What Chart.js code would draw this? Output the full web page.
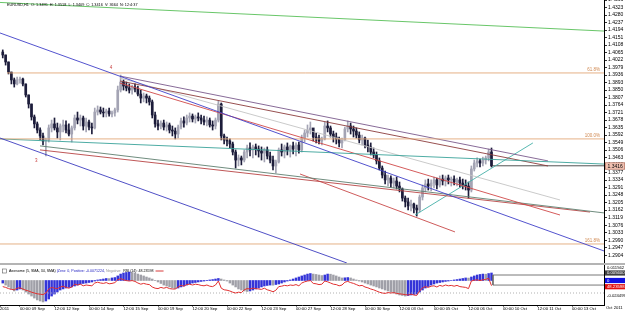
<!DOCTYPE html>
<html><head><meta charset="utf-8">
<script src="https://cdn.jsdelivr.net/npm/chart.js@4.4.1/dist/chart.umd.min.js"></script>
<style>
html,body{margin:0;padding:0;background:#fff;overflow:hidden;}
#wrap{position:relative;width:625px;height:311px;background:#fff;}
#main{position:absolute;left:0;top:0;}
#sep{position:absolute;left:0;top:263px;width:625px;height:2px;background:#b4b4b4;}
#osc{position:absolute;left:0;top:265px;}
</style></head><body>
<div id="wrap">
<canvas id="main" width="625" height="263"></canvas>
<div id="sep"></div>
<canvas id="osc" width="625" height="46"></canvas>
</div>
<script>
// ---------------- DATA ----------------
const symbolInfo = 'EURUSD,H1  O: 1.3495  H: 1.3518  L: 1.3409  C: 1.3416  V: 3664  N: 12:4:37';

const opens = [1.4068,1.4051,1.4011,1.3953,1.3908,1.3885,1.3908,1.3913,1.3885,1.3822,
1.3770,1.3696,1.3656,1.3621,1.3587,1.3558,1.3564,1.3633,1.3656,1.3633,
1.3610,1.3644,1.3650,1.3621,1.3598,1.3633,1.3690,1.3678,1.3690,1.3644,
1.3667,1.3638,1.3633,1.3724,1.3736,1.3724,1.3719,1.3730,1.3713,1.3719,
1.3736,1.3850,1.3896,1.3873,1.3862,1.3850,1.3867,1.3856,1.3827,1.3804,
1.3816,1.3804,1.3782,1.3707,1.3656,1.3644,1.3661,1.3638,1.3650,1.3621,
1.3615,1.3598,1.3638,1.3673,1.3661,1.3690,1.3701,1.3684,1.3696,1.3690,
1.3678,1.3667,1.3678,1.3650,1.3644,1.3678,1.3770,1.3587,1.3564,1.3558,
1.3541,1.3495,1.3449,1.3461,1.3449,1.3495,1.3518,1.3507,1.3524,1.3512,
1.3501,1.3489,1.3507,1.3472,1.3449,1.3415,1.3438,1.3507,1.3495,1.3524,
1.3507,1.3530,1.3512,1.3535,1.3507,1.3575,1.3604,1.3621,1.3633,1.3581,
1.3575,1.3558,1.3570,1.3644,1.3633,1.3598,1.3581,1.3570,1.3547,1.3564,
1.3627,1.3644,1.3627,1.3615,1.3592,1.3564,1.3575,1.3535,1.3524,1.3495,
1.3478,1.3444,1.3403,1.3363,1.3335,1.3346,1.3317,1.3329,1.3300,1.3283,
1.3231,1.3209,1.3186,1.3197,1.3174,1.3163,1.3237,1.3289,1.3312,1.3300,
1.3317,1.3335,1.3306,1.3340,1.3329,1.3346,1.3335,1.3340,1.3323,1.3335,
1.3317,1.3306,1.3300,1.3277,1.3398,1.3432,1.3444,1.3432,1.3449,1.3461,
1.3495];
const highs = [1.4080,1.4051,1.4011,1.3953,1.3919,1.3925,1.3925,1.3919,1.3885,1.3822,
1.3770,1.3707,1.3667,1.3633,1.3604,1.3575,1.3650,1.3678,1.3690,1.3661,
1.3656,1.3678,1.3673,1.3656,1.3644,1.3707,1.3724,1.3707,1.3701,1.3690,
1.3678,1.3661,1.3747,1.3759,1.3753,1.3747,1.3741,1.3747,1.3730,1.3747,
1.3873,1.3936,1.3908,1.3896,1.3885,1.3879,1.3885,1.3873,1.3850,1.3833,
1.3827,1.3816,1.3793,1.3724,1.3678,1.3673,1.3678,1.3667,1.3661,1.3644,
1.3633,1.3650,1.3690,1.3696,1.3707,1.3719,1.3713,1.3707,1.3719,1.3707,
1.3701,1.3696,1.3690,1.3673,1.3690,1.3787,1.3776,1.3598,1.3581,1.3570,
1.3552,1.3507,1.3478,1.3472,1.3507,1.3535,1.3547,1.3535,1.3541,1.3530,
1.3524,1.3518,1.3524,1.3495,1.3472,1.3449,1.3518,1.3541,1.3535,1.3547,
1.3535,1.3552,1.3547,1.3552,1.3592,1.3621,1.3650,1.3667,1.3621,1.3604,
1.3592,1.3581,1.3667,1.3673,1.3644,1.3615,1.3604,1.3581,1.3575,1.3638,
1.3673,1.3661,1.3644,1.3633,1.3610,1.3592,1.3581,1.3564,1.3547,1.3518,
1.3495,1.3461,1.3415,1.3386,1.3363,1.3358,1.3346,1.3352,1.3323,1.3289,
1.3243,1.3231,1.3220,1.3203,1.3191,1.3249,1.3306,1.3335,1.3340,1.3335,
1.3352,1.3346,1.3358,1.3363,1.3358,1.3363,1.3352,1.3358,1.3346,1.3352,
1.3340,1.3335,1.3323,1.3415,1.3449,1.3461,1.3455,1.3466,1.3472,1.3512,
1.3518];
const lows = [1.4034,1.3993,1.3942,1.3885,1.3867,1.3879,1.3890,1.3873,1.3810,1.3747,
1.3678,1.3633,1.3604,1.3564,1.3535,1.3472,1.3552,1.3610,1.3621,1.3575,
1.3564,1.3610,1.3604,1.3587,1.3552,1.3621,1.3656,1.3644,1.3621,1.3610,
1.3621,1.3598,1.3627,1.3707,1.3713,1.3696,1.3696,1.3701,1.3696,1.3701,
1.3724,1.3839,1.3850,1.3845,1.3833,1.3827,1.3839,1.3816,1.3776,1.3782,
1.3776,1.3764,1.3690,1.3638,1.3621,1.3627,1.3621,1.3615,1.3604,1.3587,
1.3570,1.3575,1.3627,1.3638,1.3650,1.3667,1.3667,1.3661,1.3673,1.3656,
1.3650,1.3644,1.3638,1.3621,1.3627,1.3667,1.3564,1.3541,1.3530,1.3518,
1.3478,1.3403,1.3415,1.3421,1.3438,1.3461,1.3472,1.3461,1.3478,1.3466,
1.3449,1.3438,1.3455,1.3432,1.3392,1.3375,1.3432,1.3472,1.3461,1.3478,
1.3466,1.3484,1.3472,1.3489,1.3495,1.3552,1.3581,1.3598,1.3558,1.3547,
1.3541,1.3535,1.3564,1.3610,1.3581,1.3552,1.3541,1.3524,1.3518,1.3558,
1.3610,1.3598,1.3581,1.3575,1.3547,1.3535,1.3518,1.3495,1.3478,1.3461,
1.3426,1.3392,1.3346,1.3312,1.3300,1.3294,1.3289,1.3283,1.3266,1.3214,
1.3180,1.3163,1.3157,1.3146,1.3128,1.3151,1.3220,1.3266,1.3277,1.3272,
1.3289,1.3283,1.3294,1.3306,1.3300,1.3312,1.3300,1.3306,1.3300,1.3294,
1.3283,1.3277,1.3231,1.3266,1.3386,1.3409,1.3409,1.3415,1.3426,1.3444,
1.3409];
const closes = [1.4051,1.4011,1.3953,1.3908,1.3885,1.3908,1.3913,1.3885,1.3822,1.3770,
1.3696,1.3656,1.3621,1.3587,1.3558,1.3564,1.3633,1.3656,1.3633,1.3610,
1.3644,1.3650,1.3621,1.3598,1.3633,1.3690,1.3678,1.3690,1.3644,1.3667,
1.3638,1.3633,1.3724,1.3736,1.3724,1.3719,1.3730,1.3713,1.3719,1.3736,
1.3850,1.3896,1.3873,1.3862,1.3850,1.3867,1.3856,1.3827,1.3804,1.3816,
1.3804,1.3782,1.3707,1.3656,1.3644,1.3661,1.3638,1.3650,1.3621,1.3615,
1.3598,1.3638,1.3673,1.3661,1.3690,1.3701,1.3684,1.3696,1.3690,1.3678,
1.3667,1.3678,1.3650,1.3644,1.3678,1.3770,1.3587,1.3564,1.3558,1.3541,
1.3495,1.3449,1.3461,1.3449,1.3495,1.3518,1.3507,1.3524,1.3512,1.3501,
1.3489,1.3507,1.3472,1.3449,1.3415,1.3438,1.3507,1.3495,1.3524,1.3507,
1.3530,1.3512,1.3535,1.3507,1.3575,1.3604,1.3621,1.3633,1.3581,1.3575,
1.3558,1.3570,1.3644,1.3633,1.3598,1.3581,1.3570,1.3547,1.3564,1.3627,
1.3644,1.3627,1.3615,1.3592,1.3564,1.3575,1.3535,1.3524,1.3495,1.3478,
1.3444,1.3403,1.3363,1.3335,1.3346,1.3317,1.3329,1.3300,1.3283,1.3231,
1.3209,1.3186,1.3197,1.3174,1.3163,1.3237,1.3289,1.3312,1.3300,1.3317,
1.3335,1.3306,1.3340,1.3329,1.3346,1.3335,1.3340,1.3323,1.3335,1.3317,
1.3306,1.3300,1.3277,1.3398,1.3432,1.3444,1.3432,1.3449,1.3461,1.3495,
1.3416];

// Awesome oscillator histogram and RSI(14), one value per bar
const aoValues = [-0.0019,-0.0034,-0.0048,-0.0063,-0.0078,-0.0071,-0.0063,-0.0071,-0.0086,-0.0101,
-0.0116,-0.0131,-0.0145,-0.0153,-0.0160,-0.0153,-0.0138,-0.0116,-0.0101,-0.0086,
-0.0071,-0.0063,-0.0056,-0.0052,-0.0048,-0.0041,-0.0034,-0.0026,-0.0022,-0.0019,
-0.0015,-0.0011,-0.0004,0.0004,0.0007,0.0011,0.0015,0.0014,0.0019,0.0022,
0.0034,0.0048,0.0056,0.0060,0.0063,0.0060,0.0056,0.0048,0.0041,0.0034,
0.0026,0.0019,0.0011,-0.0001,-0.0011,-0.0022,-0.0034,-0.0041,-0.0048,-0.0056,
-0.0060,-0.0056,-0.0048,-0.0041,-0.0034,-0.0026,-0.0019,-0.0015,-0.0011,-0.0007,
-0.0004,-0.0001,0.0004,0.0007,0.0011,0.0015,0.0011,0.0004,-0.0004,-0.0019,
-0.0034,-0.0048,-0.0063,-0.0071,-0.0078,-0.0082,-0.0078,-0.0071,-0.0063,-0.0056,
-0.0048,-0.0041,-0.0037,-0.0034,-0.0035,-0.0030,-0.0026,-0.0019,-0.0011,-0.0004,
0.0004,0.0011,0.0019,0.0026,0.0034,0.0041,0.0048,0.0052,0.0048,0.0045,
0.0041,0.0037,0.0041,0.0048,0.0047,0.0041,0.0034,0.0026,0.0019,0.0020,
0.0022,0.0019,0.0011,0.0004,-0.0004,-0.0011,-0.0019,-0.0026,-0.0034,-0.0041,
-0.0048,-0.0056,-0.0063,-0.0071,-0.0078,-0.0086,-0.0093,-0.0101,-0.0108,-0.0112,
-0.0116,-0.0112,-0.0108,-0.0104,-0.0101,-0.0086,-0.0071,-0.0056,-0.0045,-0.0034,
-0.0026,-0.0019,-0.0015,-0.0011,-0.0007,-0.0004,0.0000,0.0004,0.0007,0.0011,
0.0015,0.0019,0.0018,0.0026,0.0034,0.0041,0.0045,0.0048,0.0047,0.0052,
0.0056];
const rsiValues = [46,44,41,39,38,42,43,40,37,35,
32,30,28,27,26,30,40,44,42,41,
45,47,44,42,45,52,50,52,48,50,
49,48,55,57,55,54,56,53,54,56,
63,66,63,61,60,61,59,55,52,54,
52,51,45,42,41,44,42,44,41,40,
40,45,49,47,51,52,50,52,51,49,
48,50,47,46,50,60,42,38,37,35,
32,30,32,31,38,41,40,42,41,40,
39,42,38,36,33,37,46,47,49,48,
50,49,51,48,55,58,60,61,54,53,
51,52,60,58,55,52,51,48,50,57,
59,56,54,51,48,49,45,43,40,38,
35,32,30,29,31,30,31,29,28,27,
26,25,27,25,24,35,43,46,44,47,
48,45,49,47,50,48,49,47,49,46,
45,44,41,60,62,63,61,63,64,67,
48.23598];

// price-axis tick labels
const priceTickLabels = ['1.4366','1.4323','1.4280','1.4237','1.4194','1.4151','1.4108','1.4065','1.4022','1.3979',
'1.3936','1.3893','1.3850','1.3807','1.3764','1.3721','1.3678','1.3635','1.3592','1.3549','1.3506','1.3463',
'1.3420','1.3377','1.3334','1.3291','1.3248','1.3205','1.3162','1.3119','1.3076','1.3033','1.2990','1.2947','1.2904'];
// time-axis labels (bar index where each label sits)
const timeTickIndex = [-0.9565,6,18,30,42,54,66,78,90,102,114,126,138,150,162,174,186,198];
const timeTickLabels = ['2011','00:00 09 Sep','12:00 12 Sep','00:00 14 Sep','12:00 15 Sep','00:00 19 Sep','12:00 20 Sep',
'00:00 22 Sep','12:00 23 Sep','00:00 27 Sep','12:00 28 Sep','00:00 30 Sep','12:00 03 Oct','00:00 05 Oct',
'12:00 06 Oct','00:00 10 Oct','12:00 11 Oct','00:00 13 Oct'];
const axisCornerLabel = 'Oct 2011';

// drawn objects: [barIndex, price] start / end
const trendNames = ['green','blueUpper','blueLower','fib61.8','fib100','fib161.8','tealLong','purple','darkRed','lightGray','red','grayGreen','red2','redShort','tealUp','bid'];
const trendFrom = [[-0.9565,1.4352],[-0.9565,1.4177],[-0.9565,1.3575],[1.48,1.3948],[-0.9565,1.3570],[-0.9565,1.2968],
 [-0.9565,1.3570],[40.78,1.3930],[40.78,1.3902],[40.78,1.3919],[40.78,1.3890],[12.96,1.3530],[12.96,1.3507],
 [103.4,1.3369],[143.4,1.3134],[170.2,1.3416]];
const trendTo = [[209.13,1.4188],[209.13,1.2928],[119.7,1.2859],[209.13,1.3948],[209.13,1.3570],[209.13,1.2968],
 [209.13,1.3426],[189.65,1.3444],[189.65,1.3415],[193.83,1.3220],[193.83,1.3134],[209.13,1.3146],[204.26,1.3151],
 [157.3,1.3037],[184.4,1.3547],[209.13,1.3416]];
const fibLevels = [1.3948,1.3570,1.2968];
const fibLabels = ['61.8%','100.0%','161.8%'];
const waveLabels = ['4','3'];
const waveAnchors = [[41,1.3936],[15,1.3472]];

// oscillator panel objects
const aoBoxFrom = [170.5, 0.0041];
const aoBoxTo = [209.13, -0.0034];
const rsiLevel = 30;
const aoAxisLabels = ['0.011562','-0.024499'];
const oscTitle = [['Awesome (5, SMA, 34, SMA) ','#000000'],['(Zero: 0, Positive: -0.0071224, ','#2020c0'],['Negative: ','#909090'],[' RSI (14): 48.23598','#000000']];

// ---------------- CHART ----------------
const xMin = -0.9565, xMax = 209.13;
const priceMax = 1.4366, priceMin = 1.2859;
const aoMin = -0.01828, aoMax = 0.011562;
const FONT = '"Liberation Sans", Arial, sans-serif';

const isUp = closes.map((c, i) => c >= opens[i]);
const upCol = '#a4a4b4', dnCol = '#1c1c3a';
const trendColors = ['#58c058','#4040c8','#3c3cc0','#e2a878','#e2a878','#e2a878','#3aa39a','#7a5a8c','#8c3c3c','#c4c4c4','#d04848','#5f7f6f','#b84444','#c84848','#45b0a8','#404040'];

const lineSets = trendFrom.map((f, k) => ({
  type: 'line', label: trendNames[k],
  data: [{x: f[0], y: f[1]}, {x: trendTo[k][0], y: trendTo[k][1]}],
  borderColor: trendColors[k], borderWidth: 0.9, pointRadius: 0, fill: false, tension: 0
}));

const mainOverlay = {
  id: 'mainOverlay',
  afterDraw(chart) {
    const {ctx, scales: {x, y}} = chart;
    ctx.save();
    ctx.textBaseline = 'middle';
    ctx.textAlign = 'left';
    ctx.font = '3.8px ' + FONT;
    ctx.fillStyle = '#000';
    ctx.fillText(symbolInfo, 7, 5);
    ctx.font = '4.5px ' + FONT;
    ctx.fillStyle = '#c84040';
    waveLabels.forEach((t, k) => {
      const px = x.getPixelForValue(waveAnchors[k][0]);
      const py = y.getPixelForValue(waveAnchors[k][1]);
      ctx.fillText(t, px - 11, k === 0 ? py - 7 : py + 5);
    });
    ctx.textAlign = 'right';
    ctx.fillStyle = '#d08850';
    fibLevels.forEach((v, k) => {
      ctx.fillText(fibLabels[k], 600, y.getPixelForValue(v) - 3);
    });
    const last = closes[closes.length - 1];
    const py = Math.round(y.getPixelForValue(last));
    ctx.fillStyle = '#f2c2b2';
    ctx.fillRect(605, py - 3.5, 20, 7);
    ctx.strokeStyle = '#a86a5a';
    ctx.lineWidth = 0.6;
    ctx.strokeRect(605.3, py - 3.2, 19.4, 6.4);
    ctx.fillStyle = '#000';
    ctx.textAlign = 'left';
    ctx.font = '5px ' + FONT;
    ctx.fillText(last.toFixed(4), 607.5, py + 0.3);
    ctx.restore();
  }
};

new Chart(document.getElementById('main'), {
  type: 'bar',
  data: {
    datasets: [
      ...lineSets,
      { type: 'bar', label: 'body', grouped: false, barThickness: 2,
        data: opens.map((o, i) => ({x: i, y: [Math.min(o, closes[i]), Math.max(o, closes[i])]})),
        backgroundColor: isUp.map(u => u ? upCol : dnCol) },
      { type: 'bar', label: 'range', grouped: false, barThickness: 1,
        data: highs.map((h, i) => ({x: i, y: [lows[i], h]})),
        backgroundColor: isUp.map(u => u ? upCol : dnCol) }
    ]
  },
  options: {
    responsive: false, animation: false, devicePixelRatio: 1, events: [],
    layout: {padding: 0},
    plugins: {legend: {display: false}, tooltip: {enabled: false}},
    scales: {
      x: {type: 'linear', min: xMin, max: xMax, offset: false, display: false, grid: {offset: false}},
      y: {type: 'linear', position: 'right', min: priceMin, max: priceMax,
        afterBuildTicks: a => { a.ticks = priceTickLabels.map(s => ({value: Number(s)})); },
        afterFit: a => { a.width = 21; a.paddingTop = 0; a.paddingBottom = 0; },
        grid: {drawOnChartArea: false, tickLength: 3, color: '#000', lineWidth: 0.8},
        border: {display: true, color: '#000', width: 1},
        ticks: {autoSkip: false, padding: 1, color: '#000', font: {size: 5, family: FONT},
          callback: (v, i) => priceTickLabels[i]}
      }
    }
  },
  plugins: [mainOverlay]
});

const aoColors = aoValues.map((v, i) => (i === 0 || v > aoValues[i - 1]) ? '#3434d8' : '#a0a0a8');

const oscOverlay = {
  id: 'oscOverlay',
  afterDraw(chart) {
    const {ctx, chartArea, scales} = chart;
    const ao = scales.ao, rsi = scales.yRsi;
    ctx.save();
    ctx.textBaseline = 'middle';
    ctx.strokeStyle = '#606060'; ctx.lineWidth = 0.6;
    ctx.strokeRect(2.5, 4, 4, 4);
    ctx.font = '3.6px ' + FONT;
    let tx = 9;
    oscTitle.forEach(([t, c]) => { ctx.fillStyle = c; ctx.fillText(t, tx, 6); tx += ctx.measureText(t).width; });
    ctx.strokeStyle = '#d83a3a'; ctx.lineWidth = 1;
    ctx.beginPath(); ctx.moveTo(tx + 2, 6); ctx.lineTo(tx + 10, 6); ctx.stroke();
    ctx.font = '4.2px ' + FONT;
    ctx.fillStyle = '#000'; ctx.textAlign = 'left';
    ctx.fillText(aoAxisLabels[0], 607, chartArea.top + 3);
    ctx.fillText(aoAxisLabels[1], 607, chartArea.top + 31);
    const box = (yv, bg, fg, txt) => {
      ctx.fillStyle = bg; ctx.fillRect(605, yv - 2.6, 20, 5.2);
      ctx.fillStyle = fg; ctx.fillText(txt, 607, yv + 0.2);
    };
    const lastAo = aoValues[aoValues.length - 1];
    box(ao.getPixelForValue(lastAo), '#404040', '#ffffff', lastAo.toFixed(6));
    box(ao.getPixelForValue(0), '#1010e0', '#ffffff', '0');
    const lastRsi = rsiValues[rsiValues.length - 1];
    box(rsi.getPixelForValue(lastRsi) + 1, '#e01010', '#ffffff', lastRsi.toFixed(5));
    ctx.fillStyle = '#000';
    ctx.font = '4.2px ' + FONT;
    ctx.fillText(axisCornerLabel, 606, 42.5);
    ctx.restore();
  }
};

new Chart(document.getElementById('osc'), {
  type: 'bar',
  data: {
    datasets: [
      { type: 'line', label: 'RSI', xAxisID: 'x', yAxisID: 'yRsi', data: rsiValues.map((v, i) => ({x: i, y: v})),
        borderColor: '#e03030', borderWidth: 1, pointRadius: 0, fill: false, tension: 0 },
      { type: 'line', label: 'level', xAxisID: 'x', yAxisID: 'yRsi', data: [{x: xMin, y: rsiLevel}, {x: xMax, y: rsiLevel}],
        borderColor: '#a8a8a8', borderWidth: 0.9, borderDash: [1, 2], pointRadius: 0, fill: false },
      { type: 'line', label: 'box', xAxisID: 'x', yAxisID: 'ao',
        data: [{x: aoBoxTo[0], y: aoBoxFrom[1]}, {x: aoBoxFrom[0], y: aoBoxFrom[1]}, {x: aoBoxFrom[0], y: aoBoxTo[1]}, {x: aoBoxTo[0], y: aoBoxTo[1]}],
        borderColor: '#6a6a6a', borderWidth: 0.9, pointRadius: 0, fill: false, tension: 0 },
      { type: 'bar', label: 'AO', xAxisID: 'x', yAxisID: 'ao', barThickness: 1.8, grouped: false,
        data: aoValues.map((v, i) => ({x: i, y: v})), backgroundColor: aoColors }
    ]
  },
  options: {
    responsive: false, animation: false, devicePixelRatio: 1, events: [],
    layout: {padding: 0},
    plugins: {legend: {display: false}, tooltip: {enabled: false}},
    scales: {
      x: {type: 'linear', position: 'bottom', min: xMin, max: xMax, offset: false,
        afterBuildTicks: a => { a.ticks = timeTickIndex.map(v => ({value: v})); },
        afterFit: a => { a.height = 6; a.paddingLeft = 0; a.paddingRight = 0; },
        grid: {drawOnChartArea: false, tickLength: 1.5, color: '#000', offset: false},
        border: {display: true, color: '#000', width: 1},
        ticks: {autoSkip: false, maxRotation: 0, align: 'start', padding: 0, color: '#000',
          font: {size: 4.2, family: FONT}, callback: (v, i) => timeTickLabels[i]}
      },
      ao: {type: 'linear', axis: 'y', position: 'right', min: aoMin, max: aoMax,
        afterBuildTicks: a => { a.ticks = []; },
        afterFit: a => { a.width = 21; a.paddingTop = 0; a.paddingBottom = 0; },
        grid: {drawOnChartArea: false, tickLength: 0},
        border: {display: true, color: '#000', width: 1},
        ticks: {display: false}
      },
      yRsi: {type: 'linear', axis: 'y', position: 'left', display: false, min: 0, max: 100}
    }
  },
  plugins: [oscOverlay]
});
</script>
</body></html>
